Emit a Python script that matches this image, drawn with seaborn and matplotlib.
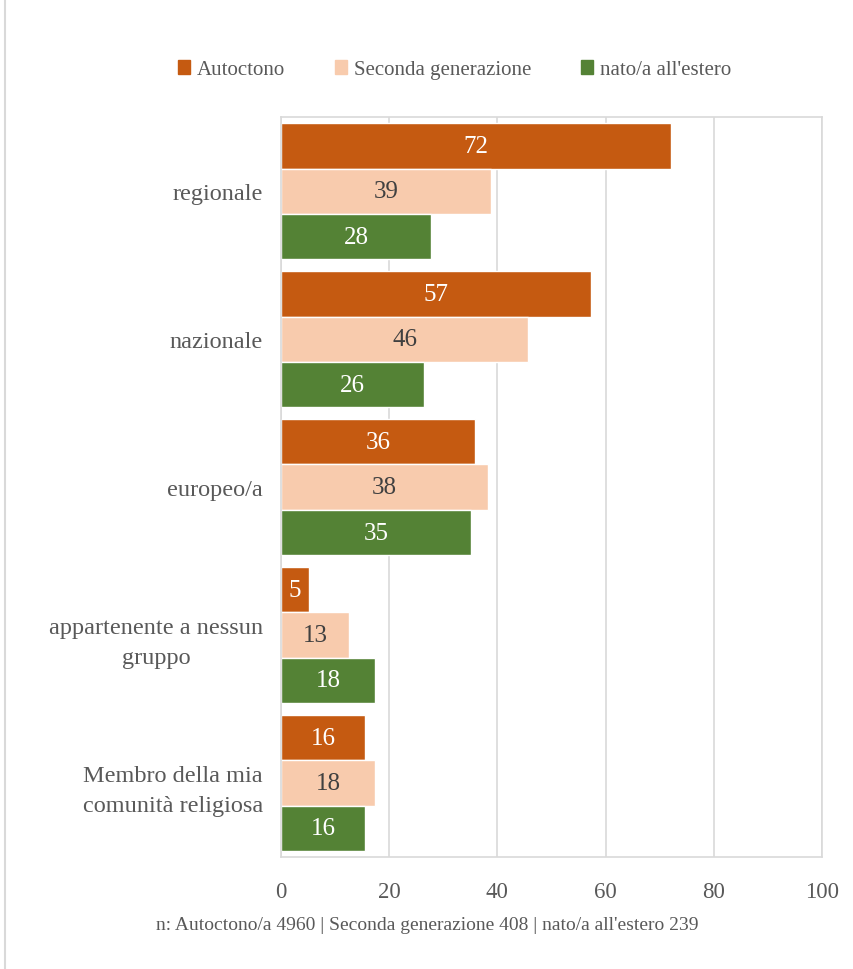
import pandas as pd
import matplotlib.pyplot as plt
import seaborn as sns
from matplotlib.lines import Line2D

categories = ["regionale", "nazionale", "europeo/a",
              "appartenente a nessun\ngruppo", "Membro della mia\ncomunità religiosa"]
groups = ["Autoctono", "Seconda generazione", "nato/a all'estero"]
autoctono = [72.1, 57.3, 35.9, 5.2, 15.5]
seconda = [38.8, 45.7, 38.3, 12.6, 17.4]
estero = [27.7, 26.4, 35.1, 17.4, 15.5]
label_autoctono = [72, 57, 36, 5, 16]
label_seconda = [39, 46, 38, 13, 18]
label_estero = [28, 26, 35, 18, 16]
ticks = [0, 20, 40, 60, 80, 100]
note = "n: Autoctono/a 4960 | Seconda generazione 408 | nato/a all'estero 239"

colors = ["#C55A11", "#F8CBAD", "#548235"]
text_colors = ["white", "#404040", "white"]

rows = []
for vals, g in zip([autoctono, seconda, estero], groups):
    for c, v in zip(categories, vals):
        rows.append({"categoria": c, "gruppo": g, "valore": v})
df = pd.DataFrame(rows)

sns.set_style("white")
plt.rcParams["font.family"] = ["Liberation Serif", "DejaVu Serif"]

fig = plt.figure(figsize=(8.54, 9.7), dpi=100)
ax = fig.add_axes([0.329, 0.1155, 0.6335, 0.7625])

sns.barplot(data=df, y="categoria", x="valore", hue="gruppo", orient="h",
            palette=colors, width=0.92, saturation=1, ax=ax, legend=False)

labels = [label_autoctono, label_seconda, label_estero]
for cont, labs, tc in zip(ax.containers, labels, text_colors):
    ax.bar_label(cont, labels=[str(l) for l in labs], label_type="center",
                 color=tc, fontsize=18)

ax.set_xlim(0, 100)
ax.set_xticks(ticks)
ax.set_xticklabels([str(t) for t in ticks])
ax.set_xlabel("")
ax.set_ylabel("")
ax.grid(axis="x", color="#D9D9D9", linewidth=1.2)
ax.set_axisbelow(True)
for s in ax.spines.values():
    s.set_color("#D9D9D9")
    s.set_linewidth(1.2)
ax.tick_params(axis="x", length=0, pad=17, labelsize=16.5, labelcolor="#595959")
ax.tick_params(axis="y", length=0, pad=13, labelsize=17.5, labelcolor="#595959")
for t in ax.get_yticklabels():
    t.set_multialignment("center")
    t.set_linespacing(1.6)

handles = [plt.Rectangle((0, 0), 1, 1, color=c) for c in colors]
fig.legend(handles, groups, loc="center", bbox_to_anchor=(0.532, 0.927), ncol=3,
           frameon=False, fontsize=15, handlelength=0.6, handleheight=0.6,
           handletextpad=0.3, columnspacing=2.4, labelcolor="#595959")

fig.text(0.5, 0.046, note, ha="center", va="center", fontsize=14, color="#595959")
fig.add_artist(Line2D([0.006, 0.006], [0, 1], color="#D9D9D9", linewidth=1.5,
                      transform=fig.transFigure))

plt.savefig("out.png", dpi=100)
